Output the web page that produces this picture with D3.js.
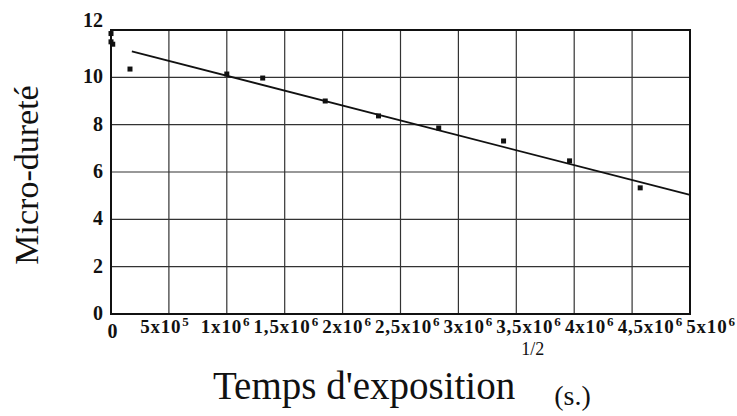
<!DOCTYPE html>
<html>
<head>
<meta charset="utf-8">
<script src="https://cdn.jsdelivr.net/npm/d3@7"></script>
<style>
  body { margin: 0; background: #fff; }
  svg { display: block; }
  text { font-family: "Liberation Serif", serif; fill: #111; }
  .tick { font-family: "Liberation Serif", serif; font-weight: 700; }
</style>
</head>
<body>
<div id="chart"></div>
<script>
// measured points (x = t^1/2, y = micro-durete)
var ptsX = [0, 0, 1.5e4, 1.64e5, 1.0e6, 1.31e6, 1.85e6, 2.31e6, 2.83e6, 3.39e6, 3.96e6, 4.57e6];
var ptsY = [11.85, 11.5, 11.4, 10.35, 10.14, 9.97, 9.0, 8.37, 7.86, 7.31, 6.47, 5.33];
// fitted line
var fitX = [1.8e5, 5e6];
var fitY = [11.1, 5.03];

var yTicks = [0, 2, 4, 6, 8, 10, 12];
var xTicks = [0, 5e5, 1e6, 1.5e6, 2e6, 2.5e6, 3e6, 3.5e6, 4e6, 4.5e6, 5e6];
var xTickBase = ["0", "5x10", "1x10", "1,5x10", "2x10", "2,5x10", "3x10", "3,5x10", "4x10", "4,5x10", "5x10"];
var xTickExp = ["", "5", "6", "6", "6", "6", "6", "6", "6", "6", "6"];

function drawChart() {
  var W = 737, H = 416;
  var margin = {top: 30, right: 47, bottom: 102, left: 111};
  var width = W - margin.left - margin.right;
  var height = H - margin.top - margin.bottom;

  var svg = d3.select("#chart").append("svg").attr("width", W).attr("height", H);
  var g = svg.append("g").attr("transform", "translate(" + margin.left + "," + margin.top + ")");

  var x = d3.scaleLinear().domain([0, 5e6]).range([0, width]);
  var y = d3.scaleLinear().domain([0, 12]).range([height, 0]);
  // labels in the original are spread a bit wider than the grid
  var xLab = d3.scaleLinear().domain([5e5, 5e6]).range([x(5e5) - 4, x(5e6) + 21]);

  // grid
  g.append("g").selectAll("line").data(xTicks).enter().append("line")
    .attr("x1", d => x(d)).attr("x2", d => x(d))
    .attr("y1", 0).attr("y2", height)
    .attr("stroke", "#333").attr("stroke-width", 1.2);
  g.append("g").selectAll("line").data(yTicks).enter().append("line")
    .attr("x1", 0).attr("x2", width)
    .attr("y1", d => y(d)).attr("y2", d => y(d))
    .attr("stroke", "#333").attr("stroke-width", 1.2);

  // frame
  g.append("rect").attr("x", 0).attr("y", 0).attr("width", width).attr("height", height)
    .attr("fill", "none").attr("stroke", "#111").attr("stroke-width", 2);

  // y tick labels
  g.append("g").selectAll("text").data(yTicks).enter().append("text")
    .attr("class", "tick")
    .attr("x", -8).attr("y", d => y(d) + (d == 12 ? -3 : 6))
    .attr("text-anchor", "end").style("font-size", "20px")
    .text(d => d);

  // x tick labels
  var xl = g.append("g").selectAll("text").data(xTicks).enter().append("text")
    .attr("class", "tick")
    .attr("x", d => d == 0 ? x(0) + 2 : xLab(d))
    .attr("y", (d, i) => height + (i == 0 ? 24 : 19))
    .attr("text-anchor", "middle")
    .style("font-size", (d, i) => i == 0 ? "20px" : "19px")
    .style("letter-spacing", "0.8px");
  xl.append("tspan").text((d, i) => xTickBase[i]);
  xl.append("tspan").style("font-size", "13px").attr("dy", -7).attr("dx", 1).text((d, i) => xTickExp[i]);

  // fit line
  var line = d3.line().x(d => x(d[0])).y(d => y(d[1]));
  g.append("path").datum(d3.zip(fitX, fitY)).attr("d", line)
    .attr("fill", "none").attr("stroke", "#111").attr("stroke-width", 1.8);

  // points
  g.append("g").selectAll("rect").data(d3.zip(ptsX, ptsY)).enter().append("rect")
    .attr("x", d => x(d[0]) - 2.5).attr("y", d => y(d[1]) - 2.5)
    .attr("width", 5).attr("height", 5).attr("fill", "#111");

  // axis titles
  svg.append("text")
    .attr("transform", "translate(38,175) rotate(-90)")
    .attr("text-anchor", "middle").style("font-size", "34px")
    .text("Micro-dureté");

  var xt = svg.append("text").attr("x", 213).attr("y", 399).style("font-size", "39px");
  xt.append("tspan").text("Temps d'exposition");
  xt.append("tspan").style("font-size", "18px").attr("dx", 6).attr("dy", -44).text("1/2");
  xt.append("tspan").style("font-size", "28px").attr("dx", 10).attr("dy", 50).text("(s.)");
}

drawChart();
</script>
</body>
</html>
